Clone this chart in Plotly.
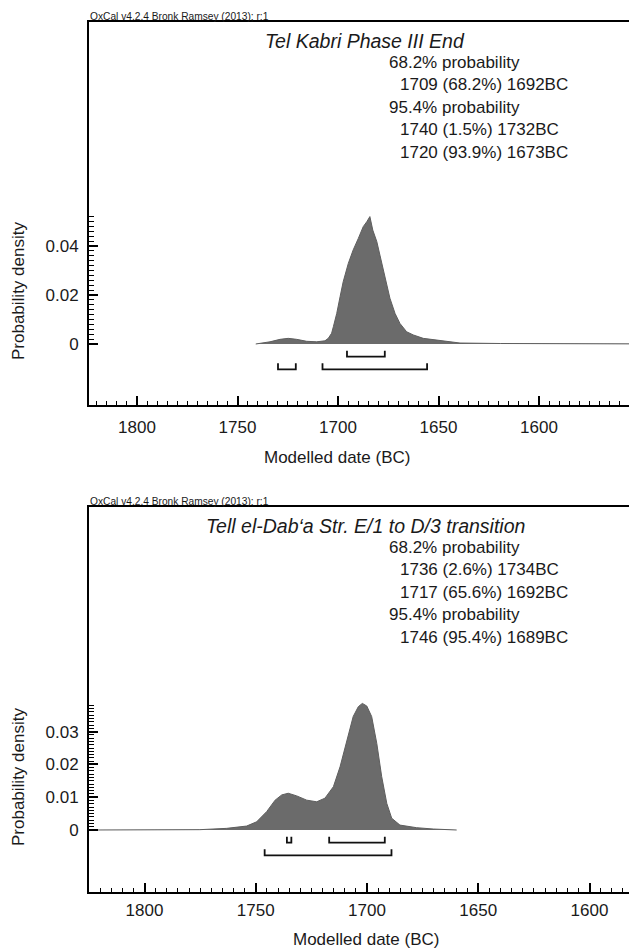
import numpy as np
import plotly.graph_objects as go

# ---------------- data ----------------
# Tel Kabri Phase III End (probability density by year BC)
kabri_years = [1750, 1743.6, 1739.1, 1735.4, 1731.6, 1727.1, 1722.6, 1718.9, 1717.4, 1715.9,
               1715.1, 1713.6, 1712.1, 1710.7, 1708.4, 1706.2, 1703.9, 1701.7, 1700.1, 1698.7,
               1697.4, 1695.6, 1694.2, 1692.7, 1691.1, 1689.7, 1687.4, 1685.2, 1682.2, 1679.2,
               1674.7, 1668.7, 1662.7, 1658.2, 1640, 1625.4, 1600, 1570]
kabri_density = [0.0, 0.0009, 0.0019, 0.0023, 0.0019, 0.0011, 0.0009, 0.0013, 0.0023, 0.0044,
                 0.0071, 0.0125, 0.0193, 0.0254, 0.0329, 0.0384, 0.0431, 0.0479, 0.0499, 0.0520,
                 0.0465, 0.0418, 0.0363, 0.0302, 0.0241, 0.0187, 0.0125, 0.0084, 0.0050, 0.0037,
                 0.0023, 0.0016, 0.0008, 0.0004, 0.0002, 0.0001, 0.00005, 0.00002]
kabri_68 = [(1709, 68.2, 1692)]
kabri_95 = [(1740, 1.5, 1732), (1720, 93.9, 1673)]

# Tell el-Dab'a Str. E/1 to D/3 transition
dab_years = [1825, 1790, 1775.1, 1763.1, 1754.1, 1749.6, 1745.1, 1741.3, 1738.3, 1735.4,
             1731.6, 1727.1, 1722.6, 1718.9, 1715.1, 1712.1, 1709.1, 1706.2, 1703.9, 1702.1,
             1700.1, 1697.9, 1695.6, 1693.4, 1691.1, 1688.9, 1685.2, 1677.7, 1670.2, 1659.7]
dab_density = [0.0, 0.0, 0.0001, 0.0005, 0.0012, 0.0025, 0.0056, 0.0091, 0.0107, 0.0112,
               0.0104, 0.0091, 0.0086, 0.0097, 0.0132, 0.0193, 0.0274, 0.0346, 0.0376, 0.0386,
               0.0378, 0.0346, 0.0264, 0.0163, 0.0081, 0.0036, 0.0015, 0.0007, 0.0003, 0.0]
dab_68 = [(1736, 2.6, 1734), (1717, 65.6, 1692)]
dab_95 = [(1746, 95.4, 1689)]

x_ticks = [1800, 1750, 1700, 1650, 1600]
kabri_yticks = [0, 0.02, 0.04]
dab_yticks = [0, 0.01, 0.02, 0.03]

header = "OxCal v4.2.4 Bronk Ramsey (2013); r:1"
kabri_title = "Tel Kabri Phase III End"
dab_title = "Tell el-Dab\u2018a Str. E/1 to D/3 transition"
x_title = "Modelled date (BC)"
y_title = "Probability density"

# ---------------- layout (reference pixels) ----------------
W, H = 637, 948
OFF = 8                      # page body margin
FW, FH = W - OFF, H - OFF    # figure size
PLOT_L = 89

def xr(anchor_px, px_per_yr):
    """axis range so that year 1700 sits at anchor_px with px_per_yr scaling"""
    return [1700 + (anchor_px - PLOT_L) / px_per_yr, 1700 - (W - anchor_px) / px_per_yr]

data_range = xr(367.0, 2.225)

panels = [
    dict(top=22, bottom=405, zero=344, ppu=2450.0, years=kabri_years, dens=kabri_density,
         r68=kabri_68, r95=kabri_95, yticks=kabri_yticks, minor_step=0.002,
         title=kabri_title, ytitle_px=291, xtitle=(337, 457), tick_range=xr(338.0, 2.01),
         standoff=6),
    dict(top=507, bottom=892, zero=830, ppu=3280.0, years=dab_years, dens=dab_density,
         r68=dab_68, r95=dab_95, yticks=dab_yticks, minor_step=0.001,
         title=dab_title, ytitle_px=777, xtitle=(366, 939), tick_range=data_range,
         standoff=2),
]

FONT = "Liberation Sans, Arial, Helvetica, sans-serif"
TXT = "#1a1a1a"

def px_x(p):
    return (p - OFF) / FW

def px_y(p):
    return 1 - (p - OFF) / FH

x_dom = [px_x(PLOT_L), 1]

fig = go.Figure()
annotations = []
layout_axes = {}

for i, P in enumerate(panels):
    sfx = "" if i == 0 else str(i + 1)
    xa, ya = "x" + sfx, "y" + sfx
    ppu = P["ppu"]
    y_range = [-(P["bottom"] - P["zero"]) / ppu, (P["zero"] - P["top"]) / ppu]

    # the top panel's tick axis has its own scale, so its data uses a separate hidden x-axis
    separate = P["tick_range"] != data_range
    xd = "x3" if separate else xa
    if separate:
        # empty trace so the tick axis' own subplot is created and drawn
        fig.add_trace(go.Scatter(x=[], y=[], mode="lines", xaxis=xa, yaxis=ya,
                                 showlegend=False, hoverinfo="skip"))

    # density curve
    fig.add_trace(go.Scatter(
        x=P["years"], y=P["dens"], mode="lines", fill="tozeroy",
        line=dict(color="#5e5e5e", width=1), fillcolor="#6b6b6b",
        xaxis=xd, yaxis=ya, showlegend=False, hoverinfo="skip"))

    # range brackets
    for row, ranges in enumerate([P["r68"], P["r95"]]):
        y_line = -(12.7 + 12.6 * row) / ppu
        y_tip = y_line + 6 / ppu
        bx, by = [], []
        for a, _, b in ranges:
            bx += [a, a, b, b, None]
            by += [y_tip, y_line, y_line, y_tip, None]
        fig.add_trace(go.Scatter(
            x=bx, y=by, mode="lines", line=dict(color="#111111", width=1.8),
            xaxis=xd, yaxis=ya, showlegend=False, hoverinfo="skip"))

    dom_y = [px_y(P["bottom"]), px_y(P["top"])]
    minor_vals = list(np.arange(0, max(P["dens"]) + 1e-9, P["minor_step"]))

    layout_axes["xaxis" + sfx] = dict(
        domain=x_dom, range=P["tick_range"], anchor=ya, automargin=False,
        showline=True, linecolor="black", linewidth=2, mirror=True,
        ticks="inside", ticklen=9, tickwidth=1.5, tickcolor="black",
        tickmode="array", tickvals=x_ticks, ticktext=[str(t) for t in x_ticks],
        minor=dict(ticks="inside", dtick=5, tick0=1800, ticklen=4, tickwidth=1, tickcolor="black"),
        showgrid=False, zeroline=False,
        tickfont=dict(family=FONT, size=17, color=TXT), ticklabelstandoff=P["standoff"])
    if separate:
        layout_axes["xaxis3"] = dict(
            domain=x_dom, anchor=ya, range=data_range, visible=False, automargin=False,
            showgrid=False, zeroline=False, showline=False)
    layout_axes["yaxis" + sfx] = dict(
        domain=dom_y, range=y_range, anchor=xa, automargin=False,
        showline=True, linecolor="black", linewidth=2, mirror=False,
        ticks="inside", ticklen=9, tickwidth=1.5, tickcolor="black",
        tickmode="array", tickvals=P["yticks"], ticktext=[("%g" % v) for v in P["yticks"]],
        minor=dict(ticks="inside", tickmode="array", tickvals=minor_vals, ticklen=5, tickwidth=1,
                   tickcolor="black"),
        showgrid=False, zeroline=False,
        tickfont=dict(family=FONT, size=17, color=TXT), ticklabelstandoff=5)

    # header
    annotations.append(dict(text=header, x=px_x(PLOT_L - 1), y=px_y(P["top"] - 6),
                            xref="paper", yref="paper", xanchor="left", yanchor="middle",
                            showarrow=False, font=dict(family=FONT, size=10.2, color=TXT)))
    # title
    annotations.append(dict(text="<i>" + P["title"] + "</i>", x=px_x(365), y=px_y(P["top"] + 19),
                            xref="paper", yref="paper", xanchor="center", yanchor="middle",
                            showarrow=False, font=dict(family=FONT, size=19.5, color=TXT)))
    # probability text block
    lines = [("68.2% probability", 387)]
    lines += [("%d (%.1f%%) %dBC" % (a, p, b), 398) for a, p, b in P["r68"]]
    lines += [("95.4% probability", 387)]
    lines += [("%d (%.1f%%) %dBC" % (a, p, b), 398) for a, p, b in P["r95"]]
    for k, (t, xl) in enumerate(lines):
        annotations.append(dict(text=t, x=px_x(xl), y=px_y(P["top"] + 40 + 22.5 * k),
                                xref="paper", yref="paper", xanchor="left", yanchor="middle",
                                showarrow=False, font=dict(family=FONT, size=17, color=TXT)))
    # axis titles
    annotations.append(dict(text=y_title, x=px_x(18), y=px_y(P["ytitle_px"]), textangle=-90,
                            xref="paper", yref="paper", xanchor="center", yanchor="middle",
                            showarrow=False, font=dict(family=FONT, size=17, color=TXT)))
    annotations.append(dict(text=x_title, x=px_x(P["xtitle"][0]), y=px_y(P["xtitle"][1]),
                            xref="paper", yref="paper", xanchor="center", yanchor="middle",
                            showarrow=False, font=dict(family=FONT, size=17, color=TXT)))

fig.update_layout(
    width=FW, height=FH, autosize=False,
    margin=dict(l=0, r=0, t=0, b=0, pad=0),
    paper_bgcolor="white", plot_bgcolor="rgba(0,0,0,0)",
    showlegend=False, annotations=annotations, **layout_axes)

fig.write_html("out.html")
